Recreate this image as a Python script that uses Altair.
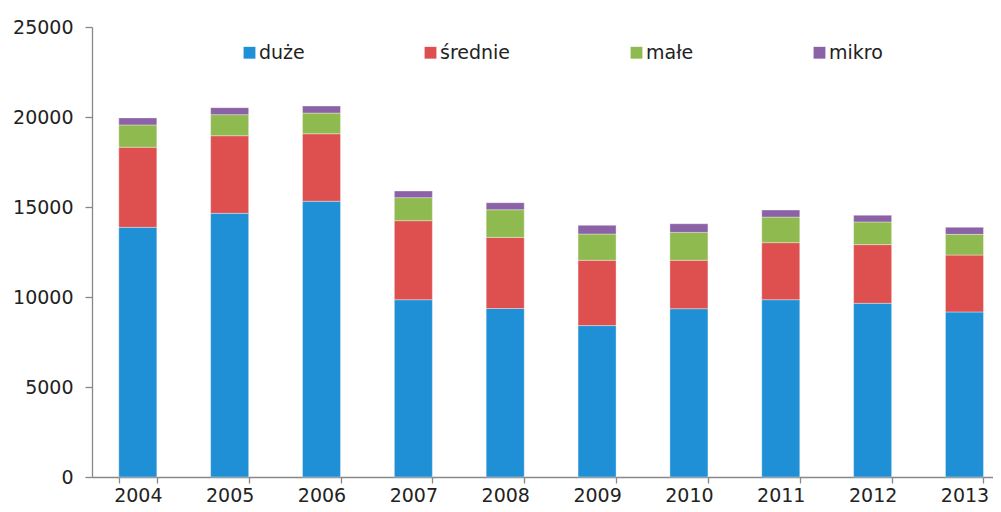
import altair as alt
import pandas as pd

years = ["2004", "2005", "2006", "2007", "2008", "2009", "2010", "2011", "2012", "2013"]
series = ["duże", "średnie", "małe", "mikro"]
duze = [13870, 14650, 15320, 9850, 9360, 8410, 9350, 9850, 9650, 9170]
srednie = [4450, 4310, 3750, 4390, 3950, 3630, 2690, 3170, 3260, 3160]
male = [1240, 1170, 1150, 1280, 1540, 1460, 1550, 1420, 1260, 1150]
mikro = [390, 390, 390, 370, 390, 480, 480, 390, 370, 390]
colors = ["#1f8fd6", "#de5050", "#8fba4f", "#8b62a6"]

rows = []
for i, y in enumerate(years):
    for k, (name, vals) in enumerate(zip(series, [duze, srednie, male, mikro])):
        rows.append({"rok": y, "kategoria": name, "wartosc": vals[i], "kolejnosc": k})
df = pd.DataFrame(rows)

FONT = "DejaVu Sans"

chart = alt.Chart(df).mark_bar(stroke="white", strokeWidth=0.6, strokeOpacity=0.6).encode(
    x=alt.X("rok:N", title=None, sort=years,
            scale=alt.Scale(paddingInner=0.586, paddingOuter=0.1976, align=0.738),
            axis=alt.Axis(labelAngle=0, tickBand="extent", tickSize=6, labelPadding=3,
                          domainColor="#888888", tickColor="#888888", domainWidth=1.3, tickWidth=1.3)),
    y=alt.Y("wartosc:Q", title=None, stack="zero",
            scale=alt.Scale(domain=[0, 25000], nice=False),
            axis=alt.Axis(values=[0, 5000, 10000, 15000, 20000, 25000], format="d", grid=False,
                          tickSize=7, labelPadding=12, domainColor="#888888", tickColor="#888888",
                          domainWidth=1.3, tickWidth=1.3)),
    color=alt.Color("kategoria:N", sort=series,
                    scale=alt.Scale(domain=series, range=colors),
                    legend=alt.Legend(title=None, orient="none", legendX=148, legendY=16,
                                      direction="horizontal", columns=4, columnPadding=116,
                                      symbolType="square", symbolSize=140, symbolStrokeWidth=0,
                                      labelFontSize=19, labelFont=FONT, labelColor="#222222",
                                      labelOffset=0)),
    order=alt.Order("kolejnosc:Q", sort="ascending"),
).properties(
    width=901, height=450,
    padding={"left": 84, "top": 19, "right": 0, "bottom": 27},
    autosize=alt.AutoSizeParams(type="none"),
).configure_axis(
    labelFont=FONT, labelFontSize=19, labelColor="#222222",
).configure_view(stroke=None)

chart.save("out.html", embed_options={"renderer": "svg", "actions": False})
